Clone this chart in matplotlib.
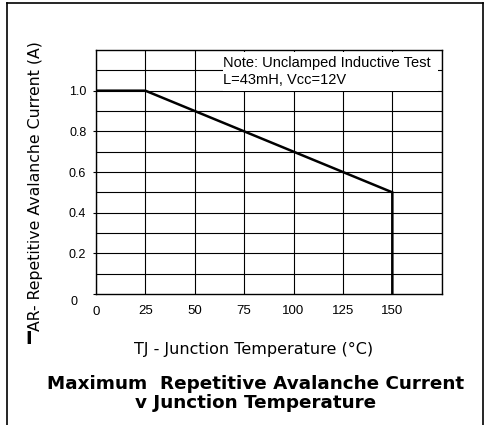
import matplotlib
matplotlib.use("Agg")
import matplotlib.pyplot as plt
import matplotlib.transforms as mtransforms
from matplotlib.patches import Rectangle

plt.rcParams['font.family'] = ['Liberation Sans', 'DejaVu Sans']

# curve data
temp = [0, 25, 150, 150]
current = [1.0, 1.0, 0.5, 0.0]

x_ticks = [0, 25, 50, 75, 100, 125, 150]
y_ticks = [0, 0.2, 0.4, 0.6, 0.8, 1.0]
y_labels = ['0', '0.2', '0.4', '0.6', '0.8', '1.0']
x_grid = [0, 25, 50, 75, 100, 125, 150, 175]
y_grid = [0.1, 0.2, 0.3, 0.4, 0.5, 0.6, 0.7, 0.8, 0.9, 1.0, 1.1]

fig = plt.figure(figsize=(4.89, 4.25), dpi=100)
ax = fig.add_axes([0.1963, 0.3082, 0.707, 0.5741])

ax.set_xlim(0, 175)
ax.set_ylim(0, 1.2)

for g in x_grid:
    ax.axvline(g, color='black', lw=0.8, zorder=1)
for g in y_grid:
    ax.axhline(g, color='black', lw=0.8, zorder=1)

ax.plot(temp, current, color='black', lw=1.8, zorder=3,
        solid_joinstyle='miter')

ax.set_xticks(x_ticks)
ax.set_yticks(y_ticks)
ax.set_yticklabels(y_labels)
ax.tick_params(axis='x', length=0, labelsize=9.5, pad=8)
ax.tick_params(axis='y', length=2.5, width=0.8, labelsize=9, pad=4.5)
for s in ax.spines.values():
    s.set_linewidth(1.0)

# the "0" label on the y axis sits lower and further left
lab0 = ax.get_yticklabels()[0]
lab0.set_transform(lab0.get_transform() +
                   mtransforms.ScaledTranslation(-9/100, -6/100, fig.dpi_scale_trans))
xl0 = ax.get_xticklabels()[0]
xl0.set_transform(xl0.get_transform() +
                  mtransforms.ScaledTranslation(0, -1/100, fig.dpi_scale_trans))

# note box
ax.add_patch(Rectangle((64.3, 1.0), 108.8, 0.19, facecolor='white',
                       edgecolor='none', zorder=2))
ax.text(64.3, 1.116, 'Note: Unclamped Inductive Test', fontsize=10.5,
        va='baseline', ha='left', zorder=4)
ax.text(64.3, 1.035, 'L=43mH, Vcc=12V', fontsize=10.5,
        va='baseline', ha='left', zorder=4)

fig.text(254/489, 1 - 354/425, 'TJ - Junction Temperature (°C)', fontsize=11.5,
         family='DejaVu Sans', ha='center', va='baseline')
fig.text(256/489, 1 - 389/425, 'Maximum  Repetitive Avalanche Current',
         fontsize=13.2, family='DejaVu Sans', fontweight='bold', ha='center', va='baseline')
fig.text(256/489, 1 - 408/425, 'v Junction Temperature',
         fontsize=13.2, family='DejaVu Sans', fontweight='bold', ha='center', va='baseline')

# y label: heavy "I" followed by the rest
fig.text(28.5/489, 1 - 338.5/425, 'I', fontsize=13, family='DejaVu Sans',
         fontweight='heavy', ha='center', va='center')
fig.text(36/489, 1 - 331/425, 'AR- Repetitive Avalanche Current (A)', fontsize=11.3,
         family='DejaVu Sans', rotation=90, ha='center', va='bottom')

# outer frame
fig.add_artist(plt.Line2D([7/489, 7/489], [0, 1 - 3/425], color='black', lw=1.2))
fig.add_artist(plt.Line2D([483/489, 483/489], [0, 1 - 3/425], color='black', lw=1.2))
fig.add_artist(plt.Line2D([7/489, 483/489], [1 - 3/425, 1 - 3/425], color='black', lw=1.2))

fig.savefig('out.png', dpi=100)
